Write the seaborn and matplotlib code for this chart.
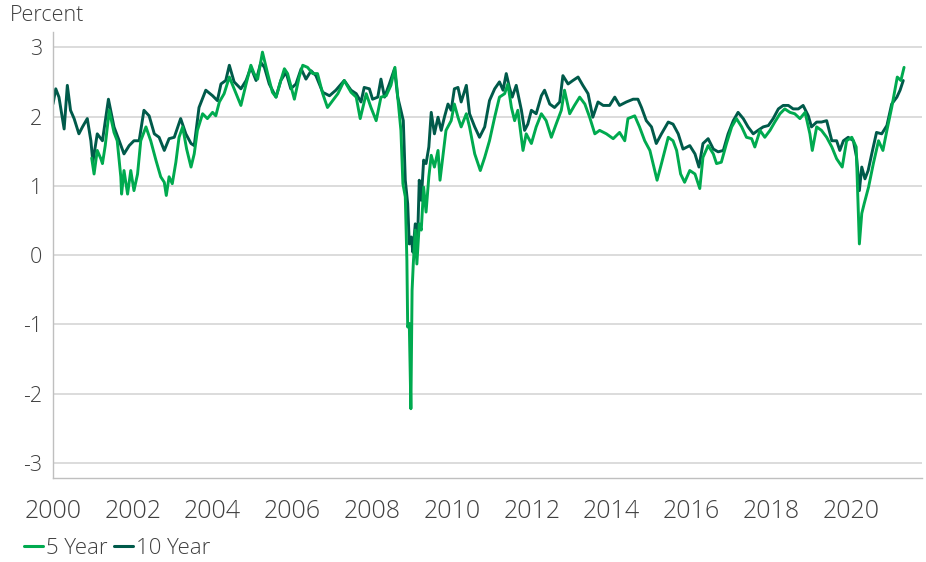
import pandas as pd
import matplotlib
matplotlib.use("Agg")
import matplotlib.pyplot as plt
import seaborn as sns

# 5 year breakeven (decimal years)
years_5y = [2000.97, 2001.03, 2001.11, 2001.20, 2001.24, 2001.31, 2001.41, 2001.53, 2001.61, 2001.70,
            2001.72, 2001.78, 2001.87, 2001.95, 2002.03, 2002.12, 2002.20, 2002.33, 2002.45, 2002.58,
            2002.70, 2002.79, 2002.84, 2002.91, 2002.99, 2003.08, 2003.16, 2003.25, 2003.35, 2003.46,
            2003.54, 2003.62, 2003.75, 2003.87, 2004.00, 2004.08, 2004.17, 2004.29, 2004.42, 2004.54,
            2004.71, 2004.84, 2004.96, 2005.04, 2005.13, 2005.25, 2005.38, 2005.50, 2005.59, 2005.71,
            2005.80, 2005.88, 2006.05, 2006.17, 2006.26, 2006.38, 2006.51, 2006.63, 2006.76, 2006.88,
            2007.01, 2007.14, 2007.30, 2007.47, 2007.60, 2007.70, 2007.85, 2007.97, 2008.10, 2008.22,
            2008.35, 2008.47, 2008.57, 2008.64, 2008.72, 2008.77, 2008.83, 2008.87, 2008.89, 2008.93,
            2008.97, 2009.00, 2009.03, 2009.08, 2009.12, 2009.18, 2009.23, 2009.29, 2009.35, 2009.42,
            2009.48, 2009.56, 2009.65, 2009.70, 2009.77, 2009.85, 2009.98, 2010.06, 2010.15, 2010.23,
            2010.36, 2010.44, 2010.57, 2010.71, 2010.82, 2010.94, 2011.07, 2011.19, 2011.32, 2011.40,
            2011.49, 2011.57, 2011.65, 2011.78, 2011.86, 2011.99, 2012.11, 2012.24, 2012.36, 2012.49,
            2012.61, 2012.74, 2012.82, 2012.95, 2013.07, 2013.20, 2013.33, 2013.45, 2013.58, 2013.70,
            2013.87, 2014.04, 2014.20, 2014.33, 2014.41, 2014.58, 2014.70, 2014.83, 2014.96, 2015.08,
            2015.14, 2015.25, 2015.42, 2015.54, 2015.63, 2015.73, 2015.83, 2015.96, 2016.09, 2016.21,
            2016.29, 2016.42, 2016.55, 2016.63, 2016.75, 2016.88, 2017.01, 2017.13, 2017.26, 2017.38,
            2017.51, 2017.59, 2017.72, 2017.84, 2017.97, 2018.09, 2018.22, 2018.34, 2018.47, 2018.59,
            2018.72, 2018.85, 2018.97, 2019.03, 2019.14, 2019.26, 2019.39, 2019.52, 2019.64, 2019.78,
            2019.89, 2020.02, 2020.13, 2020.17, 2020.21, 2020.27, 2020.33, 2020.44, 2020.56, 2020.69,
            2020.80, 2020.90, 2021.02, 2021.16, 2021.25, 2021.33]
rate_5y = [1.40, 1.17, 1.51, 1.39, 1.32, 1.58, 2.09, 1.77, 1.65, 1.13,
           0.88, 1.22, 0.88, 1.22, 0.93, 1.17, 1.65, 1.85, 1.65, 1.37,
           1.13, 1.05, 0.86, 1.13, 1.03, 1.34, 1.70, 1.85, 1.53, 1.27,
           1.46, 1.80, 2.04, 1.97, 2.06, 2.01, 2.21, 2.33, 2.57, 2.40,
           2.16, 2.47, 2.74, 2.62, 2.54, 2.93, 2.62, 2.35, 2.28, 2.52,
           2.69, 2.62, 2.25, 2.57, 2.74, 2.71, 2.62, 2.62, 2.33, 2.13,
           2.23, 2.33, 2.52, 2.35, 2.28, 1.97, 2.33, 2.13, 1.94, 2.28,
           2.30, 2.45, 2.71, 2.28, 1.80, 1.03, 0.84, -0.08, -1.04, -0.99,
           -2.22, -0.51, -0.13, 0.36, -0.13, 0.45, 0.36, 0.98, 0.62, 1.13,
           1.44, 1.27, 1.51, 1.08, 1.41, 1.80, 1.94, 2.18, 1.99, 1.85,
           2.04, 1.85, 1.46, 1.22, 1.41, 1.65, 1.99, 2.28, 2.33, 2.47,
           2.13, 1.94, 2.09, 1.51, 1.75, 1.61, 1.85, 2.04, 1.94, 1.70,
           1.89, 2.09, 2.38, 2.04, 2.16, 2.28, 2.18, 1.99, 1.75, 1.80,
           1.75, 1.68, 1.77, 1.65, 1.97, 2.01, 1.85, 1.65, 1.51, 1.22,
           1.08, 1.32, 1.70, 1.65, 1.51, 1.17, 1.05, 1.22, 1.17, 0.96,
           1.41, 1.58, 1.46, 1.32, 1.34, 1.61, 1.85, 1.97, 1.85, 1.70,
           1.68, 1.56, 1.80, 1.70, 1.80, 1.92, 2.04, 2.11, 2.06, 2.04,
           1.97, 2.06, 1.75, 1.51, 1.85, 1.80, 1.70, 1.56, 1.39, 1.27,
           1.65, 1.70, 1.56, 0.84, 0.16, 0.60, 0.74, 0.98, 1.32, 1.65,
           1.51, 1.80, 2.13, 2.57, 2.52, 2.71]

# 10 year breakeven
years_10y = [2000.00, 2000.07, 2000.15, 2000.28, 2000.36, 2000.44, 2000.53, 2000.65, 2000.74, 2000.86,
             2000.95, 2001.00, 2001.11, 2001.24, 2001.39, 2001.53, 2001.66, 2001.78, 2001.91, 2002.03,
             2002.16, 2002.28, 2002.41, 2002.54, 2002.66, 2002.79, 2002.91, 2003.04, 2003.20, 2003.33,
             2003.46, 2003.54, 2003.66, 2003.83, 2004.00, 2004.12, 2004.21, 2004.33, 2004.42, 2004.54,
             2004.71, 2004.84, 2004.96, 2005.09, 2005.21, 2005.30, 2005.42, 2005.59, 2005.71, 2005.84,
             2005.96, 2006.09, 2006.22, 2006.34, 2006.47, 2006.59, 2006.76, 2006.93, 2007.09, 2007.30,
             2007.47, 2007.60, 2007.72, 2007.80, 2007.93, 2008.01, 2008.14, 2008.22, 2008.31, 2008.43,
             2008.56, 2008.64, 2008.72, 2008.78, 2008.83, 2008.89, 2008.93, 2008.98, 2009.02, 2009.08,
             2009.14, 2009.18, 2009.23, 2009.29, 2009.35, 2009.42, 2009.48, 2009.56, 2009.65, 2009.73,
             2009.81, 2009.90, 2009.98, 2010.06, 2010.15, 2010.23, 2010.36, 2010.44, 2010.57, 2010.69,
             2010.82, 2010.94, 2011.07, 2011.19, 2011.28, 2011.36, 2011.44, 2011.51, 2011.61, 2011.74,
             2011.82, 2011.90, 2011.99, 2012.11, 2012.24, 2012.32, 2012.45, 2012.57, 2012.70, 2012.78,
             2012.91, 2013.03, 2013.16, 2013.28, 2013.41, 2013.53, 2013.66, 2013.79, 2013.95, 2014.08,
             2014.20, 2014.37, 2014.54, 2014.66, 2014.75, 2014.87, 2015.00, 2015.12, 2015.25, 2015.42,
             2015.54, 2015.67, 2015.79, 2015.96, 2016.09, 2016.19, 2016.29, 2016.42, 2016.55, 2016.67,
             2016.80, 2016.92, 2017.05, 2017.17, 2017.30, 2017.42, 2017.55, 2017.67, 2017.80, 2017.93,
             2018.05, 2018.18, 2018.30, 2018.43, 2018.55, 2018.68, 2018.80, 2018.93, 2019.01, 2019.14,
             2019.26, 2019.39, 2019.52, 2019.64, 2019.72, 2019.81, 2019.93, 2020.06, 2020.14, 2020.21,
             2020.27, 2020.35, 2020.43, 2020.52, 2020.64, 2020.77, 2020.90, 2021.02, 2021.15, 2021.23,
             2021.31]
rate_10y = [2.18, 2.40, 2.28, 1.82, 2.45, 2.09, 1.97, 1.75, 1.85, 1.97,
            1.65, 1.34, 1.75, 1.65, 2.25, 1.85, 1.65, 1.46, 1.58, 1.65,
            1.65, 2.09, 2.01, 1.75, 1.70, 1.51, 1.68, 1.70, 1.97, 1.75,
            1.61, 1.58, 2.13, 2.38, 2.30, 2.23, 2.47, 2.52, 2.74, 2.50,
            2.40, 2.52, 2.71, 2.52, 2.78, 2.71, 2.47, 2.28, 2.52, 2.64,
            2.40, 2.47, 2.69, 2.54, 2.66, 2.59, 2.35, 2.30, 2.38, 2.52,
            2.38, 2.33, 2.21, 2.42, 2.40, 2.25, 2.28, 2.54, 2.28, 2.47,
            2.69, 2.28, 2.09, 1.94, 1.08, 0.74, 0.16, 0.26, 0.04, 0.45,
            0.26, 1.08, 0.79, 1.37, 1.32, 1.56, 2.06, 1.75, 1.99, 1.80,
            1.99, 2.18, 2.09, 2.40, 2.42, 2.21, 2.45, 2.04, 1.85, 1.70,
            1.85, 2.23, 2.40, 2.50, 2.38, 2.62, 2.42, 2.28, 2.45, 2.09,
            1.80, 1.89, 2.09, 2.04, 2.30, 2.38, 2.18, 2.13, 2.21, 2.59,
            2.47, 2.52, 2.57, 2.45, 2.33, 1.99, 2.21, 2.16, 2.16, 2.28,
            2.16, 2.21, 2.25, 2.25, 2.13, 1.94, 1.85, 1.61, 1.75, 1.92,
            1.89, 1.75, 1.53, 1.58, 1.46, 1.27, 1.61, 1.68, 1.53, 1.49,
            1.51, 1.75, 1.94, 2.06, 1.97, 1.85, 1.75, 1.80, 1.85, 1.87,
            1.97, 2.11, 2.16, 2.16, 2.11, 2.11, 2.16, 2.01, 1.85, 1.92,
            1.92, 1.94, 1.65, 1.65, 1.51, 1.65, 1.70, 1.65, 1.41, 0.93,
            1.27, 1.10, 1.22, 1.46, 1.77, 1.75, 1.87, 2.18, 2.28, 2.38,
            2.52]

x_ticks = list(range(2000, 2021, 2))
y_ticks = [-3, -2, -1, 0, 1, 2, 3]

df = pd.concat([
    pd.DataFrame({"year": years_10y, "rate": rate_10y, "series": "10 Year"}),
    pd.DataFrame({"year": years_5y, "rate": rate_5y, "series": "5 Year"}),
])

sns.set_style("white")
plt.rcParams["font.family"] = ["Open Sans", "DejaVu Sans"]
plt.rcParams["font.weight"] = "light"
text_col = "#404040"
colors = {"5 Year": "#00AA4F", "10 Year": "#005A4A"}

fig = plt.figure(figsize=(9.26, 5.62), dpi=100)
ax = fig.add_axes([0.0572, 0.1495, 0.9385, 0.7935])

sns.lineplot(data=df, x="year", y="rate", hue="series", palette=colors,
             hue_order=["10 Year", "5 Year"], estimator=None, sort=True,
             linewidth=2.1, ax=ax, legend=False)

ax.set_xlim(2000, 2021.78)
ax.set_ylim(-3.22, 3.22)
ax.set_xticks(x_ticks)
ax.set_xticklabels([str(t) for t in x_ticks], fontsize=18, color=text_col)
ax.set_yticks(y_ticks)
ax.set_yticklabels([str(t) for t in y_ticks], fontsize=15.5, color=text_col)
ax.set_xlabel("")
ax.set_ylabel("")
ax.grid(axis="y", color="#D9D9D9", linewidth=1.3)
ax.set_axisbelow(True)
for side in ["top", "right"]:
    ax.spines[side].set_visible(False)
for side in ["left", "bottom"]:
    ax.spines[side].set_color("#BFBFBF")
    ax.spines[side].set_linewidth(1.0)
ax.tick_params(axis="x", length=5, width=1, color="#BFBFBF", pad=10)
ax.tick_params(axis="y", length=5, width=1, color="#BFBFBF", pad=3)

fig.text(0.011, 0.972, "Percent", fontsize=15.5, color=text_col, va="center", ha="left")

handles = [plt.Line2D([], [], color=colors["5 Year"], lw=2.2),
           plt.Line2D([], [], color=colors["10 Year"], lw=2.2)]
fig.legend(handles, ["5 Year", "10 Year"], loc="lower left", bbox_to_anchor=(0.004, -0.03),
           ncol=2, frameon=False, fontsize=16, handlelength=0.85, handletextpad=0.15,
           columnspacing=0.3, labelcolor=text_col)

fig.savefig("out.png", dpi=100)
